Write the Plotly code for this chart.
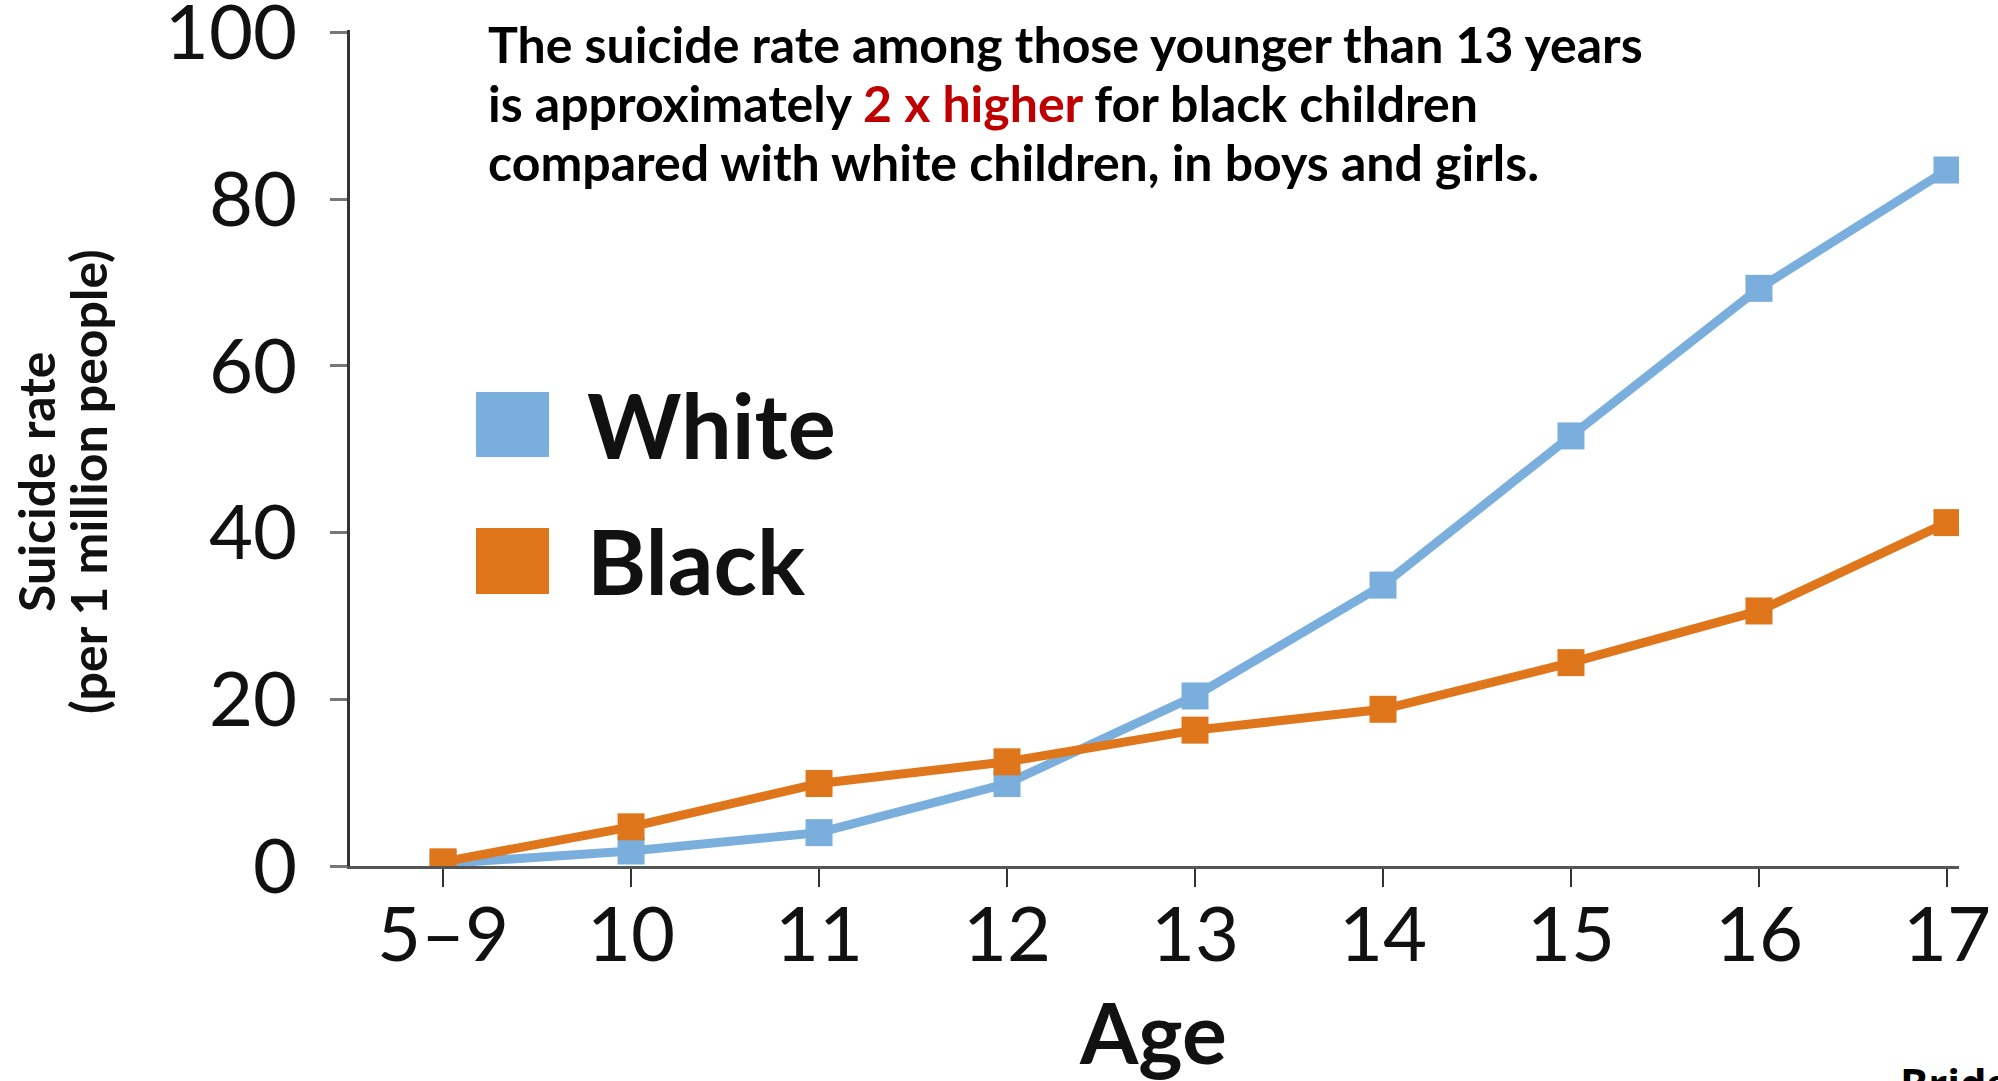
import plotly.graph_objects as go

ages = ["5–9", "10", "11", "12", "13", "14", "15", "16", "17"]
white_rate = [0.3, 1.8, 4.0, 9.9, 20.4, 33.7, 51.6, 69.3, 83.5]
black_rate = [0.5, 4.7, 9.9, 12.5, 16.3, 18.8, 24.4, 30.6, 41.2]
y_ticks = [0, 20, 40, 60, 80, 100]

WHITE_C = "#7AAFDD"
BLACK_C = "#DF761C"

W, H = 1998, 1081
L, R, T, B = 350, 39, 30, 215
PW, PH = W - L - R, H - T - B

def px(x):
    return (x - L) / PW

def py(y):
    return (H - B - y) / PH

fig = go.Figure()
fig.add_trace(go.Scatter(x=list(range(len(ages))), y=white_rate, mode="lines+markers",
                         name="White", line=dict(color=WHITE_C, width=9),
                         marker=dict(symbol="square", size=27, color=WHITE_C)))
fig.add_trace(go.Scatter(x=list(range(len(ages))), y=black_rate, mode="lines+markers",
                         name="Black", line=dict(color=BLACK_C, width=9),
                         marker=dict(symbol="square", size=27, color=BLACK_C)))

fig.update_layout(
    width=W, height=H, margin=dict(l=L, r=R, t=T, b=B, autoexpand=False),
    plot_bgcolor="white", paper_bgcolor="white", showlegend=False,
    font=dict(family="Lato", color="#111"),
)
fig.update_xaxes(range=[-0.495, 8.064], tickmode="array", tickvals=list(range(len(ages))),
                 ticktext=ages, showgrid=False, zeroline=False, showline=True,
                 linecolor="#555", linewidth=3, ticks="outside", ticklen=18, tickwidth=2,
                 tickcolor="#333", tickfont=dict(family="Lato", size=76, color="#111"),
                 ticklabelstandoff=-17, ticklabeloverflow="allow")
fig.update_yaxes(range=[0, 100.3], tickmode="array", tickvals=y_ticks, showgrid=False,
                 zeroline=False, showline=True, linecolor="#333", linewidth=2.5,
                 ticks="outside", ticklen=17, tickwidth=2.5, tickcolor="#777",
                 tickfont=dict(family="Lato", size=76, color="#111"), ticklabelstandoff=18,
                 ticklabeloverflow="allow")

# legend swatches
fig.add_shape(type="rect", xref="paper", yref="paper", x0=px(476), x1=px(549), y0=py(457), y1=py(392),
              fillcolor=WHITE_C, line=dict(width=0))
fig.add_shape(type="rect", xref="paper", yref="paper", x0=px(476), x1=px(549), y0=py(594), y1=py(528),
              fillcolor=BLACK_C, line=dict(width=0))
fig.add_annotation(xref="paper", yref="paper", x=px(585), y=py(424), xanchor="left", yanchor="middle",
                   text="<b>White</b>", showarrow=False, font=dict(family="Lato", size=90, color="#111"))
fig.add_annotation(xref="paper", yref="paper", x=px(585), y=py(560), xanchor="left", yanchor="middle",
                   text="<b>Black</b>", showarrow=False, font=dict(family="Lato", size=90, color="#111"))

# main note, one annotation per line
note_lines = [
    "<b>The suicide rate among those younger than 13 years</b>",
    "<b>is approximately <span style='color:#C00000'>2 x higher</span> for black children</b>",
    "<b>compared with white children, in boys and girls.</b>",
]
for i, line in enumerate(note_lines):
    fig.add_annotation(xref="paper", yref="paper", x=px(486), y=py(44 + 59 * i), xanchor="left",
                       yanchor="middle", align="left", text=line, showarrow=False,
                       font=dict(family="Lato", size=50, color="#000"))

# axis titles
fig.add_annotation(xref="paper", yref="paper", x=px(36), y=py(482), xanchor="center", yanchor="middle",
                   text="<b>Suicide rate</b>", textangle=-90, showarrow=False,
                   font=dict(family="Lato", size=50, color="#111"))
fig.add_annotation(xref="paper", yref="paper", x=px(88), y=py(482), xanchor="center", yanchor="middle",
                   text="<b>(per 1 million people)</b>", textangle=-90, showarrow=False,
                   font=dict(family="Lato", size=50, color="#111"))
fig.add_annotation(xref="paper", yref="paper", x=px(1153), y=py(1031), xanchor="center", yanchor="middle",
                   text="<b>Age</b>", showarrow=False, font=dict(family="Lato", size=84, color="#111"))

# source (cut off at the bottom edge)
fig.add_annotation(xref="paper", yref="paper", x=px(1898), y=py(1052), xanchor="left", yanchor="top",
                   text="<b>Bridge et al.</b>", showarrow=False, font=dict(family="Open Sans", size=42, color="#000"))

fig.write_html("out.html")
